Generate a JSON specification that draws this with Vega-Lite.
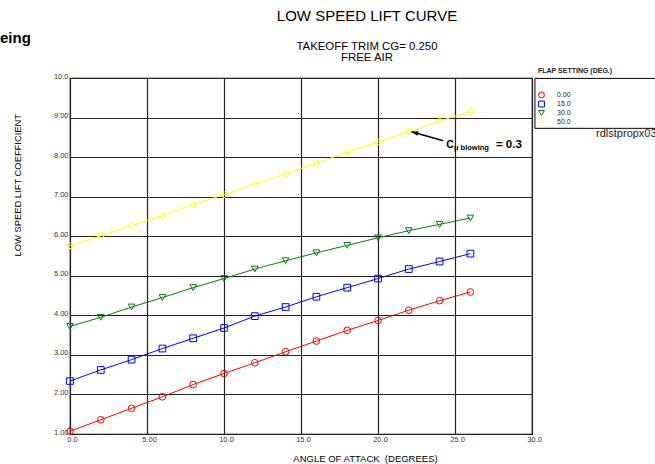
{
  "$schema": "https://vega.github.io/schema/vega-lite/v6.json",
  "width": 462,
  "height": 356,
  "autosize": {"type": "none"},
  "padding": {"left": 70, "top": 78, "right": 123, "bottom": 30},
  "background": "white",
  "title": {
    "text": "LOW SPEED LIFT CURVE",
    "subtitle": ["TAKEOFF TRIM CG= 0.250", "FREE AIR"],
    "anchor": "middle",
    "frame": "group",
    "dx": 66,
    "offset": -32,
    "fontSize": 15,
    "fontWeight": "normal",
    "color": "black",
    "subtitleFontSize": 11.4,
    "subtitleLineHeight": 11,
    "subtitlePadding": 16.5,
    "subtitleColor": "black"
  },
  "config": {
    "font": "Liberation Sans",
    "view": {"stroke": "black", "strokeWidth": 1.2},
    "legend": {"rowPadding": -3, "symbolSize": 34},
    "axis": {
      "grid": true,
      "gridColor": "#222222",
      "gridWidth": 1.2,
      "domain": false,
      "ticks": false,
      "labelFontSize": 7.5,
      "labelColor": "#333333",
      "labelFlush": false,
      "labelOverlap": false,
      "titleColor": "black",
      "titleFontWeight": "normal"
    }
  },
  "datasets": {
    "lift": [
      {"alpha": 0, "cl": 1.07, "flap": "0.00"},
      {"alpha": 2, "cl": 1.36, "flap": "0.00"},
      {"alpha": 4, "cl": 1.65, "flap": "0.00"},
      {"alpha": 6, "cl": 1.94, "flap": "0.00"},
      {"alpha": 8, "cl": 2.25, "flap": "0.00"},
      {"alpha": 10, "cl": 2.53, "flap": "0.00"},
      {"alpha": 12, "cl": 2.80, "flap": "0.00"},
      {"alpha": 14, "cl": 3.08, "flap": "0.00"},
      {"alpha": 16, "cl": 3.35, "flap": "0.00"},
      {"alpha": 18, "cl": 3.62, "flap": "0.00"},
      {"alpha": 20, "cl": 3.87, "flap": "0.00"},
      {"alpha": 22, "cl": 4.13, "flap": "0.00"},
      {"alpha": 24, "cl": 4.37, "flap": "0.00"},
      {"alpha": 26, "cl": 4.59, "flap": "0.00"},
      {"alpha": 0, "cl": 2.34, "flap": "15.0"},
      {"alpha": 2, "cl": 2.62, "flap": "15.0"},
      {"alpha": 4, "cl": 2.88, "flap": "15.0"},
      {"alpha": 6, "cl": 3.16, "flap": "15.0"},
      {"alpha": 8, "cl": 3.42, "flap": "15.0"},
      {"alpha": 10, "cl": 3.68, "flap": "15.0"},
      {"alpha": 12, "cl": 3.98, "flap": "15.0"},
      {"alpha": 14, "cl": 4.21, "flap": "15.0"},
      {"alpha": 16, "cl": 4.47, "flap": "15.0"},
      {"alpha": 18, "cl": 4.70, "flap": "15.0"},
      {"alpha": 20, "cl": 4.93, "flap": "15.0"},
      {"alpha": 22, "cl": 5.17, "flap": "15.0"},
      {"alpha": 24, "cl": 5.36, "flap": "15.0"},
      {"alpha": 26, "cl": 5.56, "flap": "15.0"},
      {"alpha": 0, "cl": 3.72, "flap": "30.0"},
      {"alpha": 2, "cl": 3.95, "flap": "30.0"},
      {"alpha": 4, "cl": 4.21, "flap": "30.0"},
      {"alpha": 6, "cl": 4.45, "flap": "30.0"},
      {"alpha": 8, "cl": 4.70, "flap": "30.0"},
      {"alpha": 10, "cl": 4.93, "flap": "30.0"},
      {"alpha": 12, "cl": 5.17, "flap": "30.0"},
      {"alpha": 14, "cl": 5.38, "flap": "30.0"},
      {"alpha": 16, "cl": 5.58, "flap": "30.0"},
      {"alpha": 18, "cl": 5.77, "flap": "30.0"},
      {"alpha": 20, "cl": 5.96, "flap": "30.0"},
      {"alpha": 22, "cl": 6.14, "flap": "30.0"},
      {"alpha": 24, "cl": 6.30, "flap": "30.0"},
      {"alpha": 26, "cl": 6.46, "flap": "30.0"},
      {"alpha": 0, "cl": 5.76, "flap": "50.0"},
      {"alpha": 2, "cl": 6.01, "flap": "50.0"},
      {"alpha": 4, "cl": 6.27, "flap": "50.0"},
      {"alpha": 6, "cl": 6.53, "flap": "50.0"},
      {"alpha": 8, "cl": 6.80, "flap": "50.0"},
      {"alpha": 10, "cl": 7.05, "flap": "50.0"},
      {"alpha": 12, "cl": 7.32, "flap": "50.0"},
      {"alpha": 14, "cl": 7.58, "flap": "50.0"},
      {"alpha": 16, "cl": 7.85, "flap": "50.0"},
      {"alpha": 18, "cl": 8.12, "flap": "50.0"},
      {"alpha": 20, "cl": 8.38, "flap": "50.0"},
      {"alpha": 22, "cl": 8.64, "flap": "50.0"},
      {"alpha": 24, "cl": 8.91, "flap": "50.0"},
      {"alpha": 26, "cl": 9.16, "flap": "50.0"}
    ],
    "notes": [
      {"id": "corner", "alpha": -4.545, "cl": 10.877, "label": "eing"},
      {"id": "file", "alpha": 34.16, "cl": 8.516, "label": "rdlstpropx03"},
      {"id": "c", "alpha": 24.43, "cl": 8.223, "label": "C"},
      {"id": "sub", "alpha": 24.93, "cl": 8.17, "label": "μ blowing"},
      {"id": "value", "alpha": 27.66, "cl": 8.223, "label": "= 0.3"}
    ],
    "arrow": [
      {"alpha": 22.18, "cl": 8.642, "alpha2": 24.24, "cl2": 8.415}
    ],
    "box": [
      {"alpha": 30.19, "cl": 9.99, "alpha2": 40, "cl2": 8.728}
    ]
  },
  "encoding": {
    "x": {
      "field": "alpha",
      "type": "quantitative",
      "scale": {"domain": [0, 30], "nice": false, "zero": false},
      "axis": {
        "values": [0, 5, 10, 15, 20, 25, 30],
        "tickCount": 12,
        "labelExpr": "datum.value == 0 ? '0.0' : (datum.value < 10 ? format(datum.value, '.2f') : format(datum.value, '.1f'))",
        "labelPadding": 1,
        "labelOffset": 2,
        "title": "ANGLE OF ATTACK \u00a0(DEGREES)",
        "titleFontSize": 9.5,
        "titleX": 295,
        "titleY": 27,
        "titleAlign": "center",
        "titleBaseline": "alphabetic"
      }
    },
    "y": {
      "field": "cl",
      "type": "quantitative",
      "scale": {"domain": [1, 10], "nice": false, "zero": false},
      "axis": {
        "values": [1, 2, 3, 4, 5, 6, 7, 8, 9, 10],
        "tickCount": 12,
        "labelExpr": "datum.value < 10 ? format(datum.value, '.2f') : format(datum.value, '.1f')",
        "labelBaseline": "alphabetic",
        "labelAlign": "right",
        "labelPadding": 2,
        "title": "LOW SPEED LIFT COEFFICIENT",
        "titleFontSize": 9.4,
        "titleAngle": 270,
        "titleX": -53,
        "titleY": 106.7,
        "titleAlign": "center",
        "titleBaseline": "middle"
      }
    }
  },
  "layer": [
    {
      "data": {"name": "lift"},
      "mark": {"type": "line", "strokeWidth": 1},
      "encoding": {
        "color": {
          "field": "flap",
          "type": "nominal",
          "scale": {"domain": ["0.00", "15.0", "30.0", "50.0"], "range": ["#ff0000", "#0000ff", "#008000", "#ffff00"]}
        },
        "detail": {"field": "flap"}
      }
    },
    {
      "data": {"name": "lift"},
      "mark": {"type": "point", "filled": false, "strokeWidth": 1, "size": 45, "opacity": 1},
      "encoding": {
        "color": {
          "field": "flap",
          "type": "nominal",
          "legend": {
            "title": "FLAP SETTING (DEG.)",
            "orient": "none",
            "legendX": 468,
            "legendY": -11.5,
            "padding": 0,
            "titleFontSize": 7,
            "titleFontWeight": "bold",
            "titleColor": "#222222",
            "titlePadding": 18,
            "labelFontSize": 7,
            "labelColor": "#222222",
            "labelOffset": 12,
            "symbolSize": 34,
            "symbolStrokeWidth": 1,
            "rowPadding": -3
          }
        },
        "shape": {
          "field": "flap",
          "type": "nominal",
          "scale": {"domain": ["0.00", "15.0", "30.0", "50.0"], "range": ["circle", "square", "triangle-down", "diamond"]}
        }
      }
    },
    {
      "data": {"name": "box"},
      "mark": {"type": "rect", "fill": "white", "fillOpacity": 0, "stroke": "black", "strokeWidth": 1, "clip": false},
      "encoding": {
        "x2": {"field": "alpha2"},
        "y2": {"field": "cl2"}
      }
    },
    {
      "data": {"name": "arrow"},
      "mark": {"type": "rule", "color": "black", "strokeWidth": 1.5},
      "encoding": {
        "x2": {"field": "alpha2"},
        "y2": {"field": "cl2"}
      }
    },
    {
      "data": {"name": "arrow"},
      "mark": {"type": "point", "shape": "M0,0L-0.8,2.2L0.8,2.2Z", "filled": true, "color": "black", "size": 36, "angle": 286, "opacity": 1}
    },
    {
      "data": {"name": "notes"},
      "transform": [{"filter": "datum.id == 'corner'"}],
      "mark": {"type": "text", "align": "left", "baseline": "alphabetic", "fontSize": 15, "fontWeight": "bold", "color": "black"},
      "encoding": {"text": {"field": "label"}}
    },
    {
      "data": {"name": "notes"},
      "transform": [{"filter": "datum.id == 'file'"}],
      "mark": {"type": "text", "align": "left", "baseline": "alphabetic", "fontSize": 11, "color": "#222222"},
      "encoding": {"text": {"field": "label"}}
    },
    {
      "data": {"name": "notes"},
      "transform": [{"filter": "datum.id == 'c'"}],
      "mark": {"type": "text", "align": "left", "baseline": "alphabetic", "fontSize": 10.5, "fontWeight": "bold", "color": "black"},
      "encoding": {"text": {"field": "label"}}
    },
    {
      "data": {"name": "notes"},
      "transform": [{"filter": "datum.id == 'value'"}],
      "mark": {"type": "text", "align": "left", "baseline": "alphabetic", "fontSize": 11.5, "fontWeight": "bold", "color": "black"},
      "encoding": {"text": {"field": "label"}}
    },
    {
      "data": {"name": "notes"},
      "transform": [{"filter": "datum.id == 'sub'"}],
      "mark": {"type": "text", "align": "left", "baseline": "alphabetic", "fontSize": 7.5, "fontWeight": "bold", "color": "black"},
      "encoding": {"text": {"field": "label"}}
    }
  ]
}
